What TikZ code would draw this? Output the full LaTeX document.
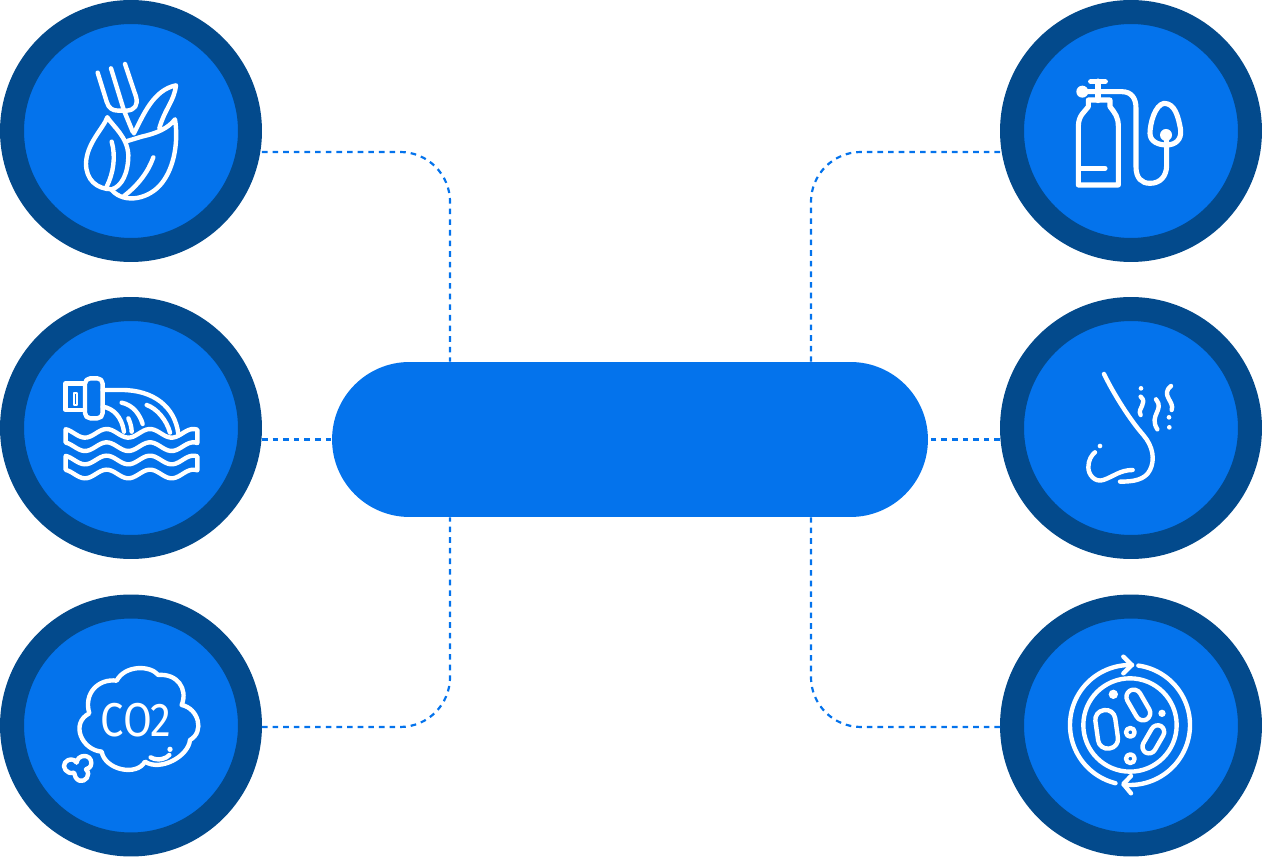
\documentclass[tikz,border=0pt]{standalone}
\usepackage{fontspec}
\newfontfamily\iconfont{Fira Sans}
\definecolor{brandblue}{HTML}{0473EC}
\definecolor{branddark}{HTML}{034A8C}
\tikzset{
  badge/.style={circle,draw=branddark,fill=brandblue,line width=.48cm,minimum size=4.76cm,inner sep=0pt},
  link/.style={draw=brandblue,line width=1.25pt,dash pattern=on 3.2pt off 2.85pt,rounded corners=1cm},
  icon/.style={draw=white,line width=2.5pt,line cap=round,line join=round},
  crop/.style={shift={(#1)},scale=1/3},
}
\begin{document}
\begin{tikzpicture}[x=.02cm,y=-.02cm]
\useasboundingbox (0,0) rectangle (1262,857);

\node[badge] (leaf) at (131,131) {};
\node[badge] (pipe) at (131,428) {};
\node[badge] (cloud) at (131,725.5) {};
\node[badge] (tank) at (1131,131) {};
\node[badge] (nose) at (1131,428) {};
\node[badge] (petri) at (1131,725.5) {};
\node[fill=brandblue,minimum width=11.92cm,minimum height=3.1cm,rounded corners=1.55cm,inner sep=0pt] (pill) at (630,439.5) {};

\draw[link] ([yshift=-.42cm]leaf.east) -| ([xshift=-3.6cm]pill.north);
\draw[link] ([yshift=-.42cm]tank.west) -| ([xshift=3.62cm]pill.north);
\draw[link] ([yshift=-.03cm]cloud.east) -| ([xshift=-3.6cm]pill.south);
\draw[link] ([yshift=-.03cm]petri.west) -| ([xshift=3.62cm]pill.south);
\draw[link] (pill.west -| pipe.east) -- (pill.west);
\draw[link] (pill.east -| nose.west) -- (pill.east);

\begin{scope}[crop={50,40}]
\draw[icon] (143,98) -- (170,185) .. controls (176,205) and (187,212) .. (205,212) -- (230,212) .. controls (255,210) and (265,195) .. (258,170) -- (225,72);
\draw[icon] (183,85) -- (222,212) -- (248,275);
\draw[icon] (252,280) .. controls (280,225) and (310,150) .. (378,136) .. controls (372,185) and (345,205) .. (328,265);
\draw[icon] (232,303) -- (275,290) .. controls (320,280) and (355,265) .. (375,238) .. controls (385,300) and (375,380) .. (335,430) .. controls (300,475) and (225,495) .. (185,450);
\draw[icon] (310,352) .. controls (295,395) and (265,435) .. (222,468);
\draw[icon] (172,232) .. controls (160,265) and (110,310) .. (108,370) .. controls (108,420) and (140,447) .. (185,448) .. controls (215,440) and (235,400) .. (235,345) .. controls (232,290) and (190,260) .. (172,232);
\draw[icon] (185,305) .. controls (198,350) and (190,400) .. (170,440);
\end{scope}

\begin{scope}[crop={50,360}]
\draw[icon] (105,70) -- (47,70) -- (47,150) -- (105,150);
\draw[icon,rounded corners=3pt] (105,55) rectangle (158,175);
\draw[icon,line width=1.2pt] (71,99) rectangle (82,136);
\draw[icon] (158,90) -- (215,90) .. controls (310,90) and (375,140) .. (385,222);
\draw[icon] (158,140) .. controls (190,145) and (215,170) .. (222,215);
\draw[icon] (215,128) .. controls (250,135) and (270,165) .. (278,192);
\draw[icon] (290,135) .. controls (320,145) and (350,180) .. (360,218);
\draw[icon] (235,175) .. controls (242,190) and (245,205) .. (245,215);
\foreach \wavetop/\wavebot in {220/260,300/342}
  \draw[icon] plot[smooth,samples=50,domain=47:442] (\x,{\wavetop-13*cos((\x-170)*2.769)}) -- plot[smooth,samples=50,domain=442:47] (\x,{\wavebot-13*cos((\x-170)*2.769)}) -- cycle;
\end{scope}

\begin{scope}[crop={50,650}]
\draw[icon] (118,190) .. controls (100,130) and (145,85) .. (200,92) .. controls (225,45) and (300,45) .. (325,75) .. controls (380,70) and (415,115) .. (395,165) .. controls (445,175) and (465,245) .. (420,270) .. controls (415,320) and (330,365) .. (285,335) .. controls (260,380) and (165,360) .. (155,305) .. controls (95,300) and (60,220) .. cycle;
\draw[icon] (302,322) .. controls (325,335) and (350,325) .. (358,315);
\fill[white] (360,298) circle[radius=8];
\draw[icon] (80,338) .. controls (82,312) and (125,310) .. (124,340) .. controls (123,352) and (115,356) .. (108,358) .. controls (125,375) and (105,398) .. (88,392) .. controls (78,388) and (74,378) .. (72,368) .. controls (50,375) and (35,350) .. (45,338) .. controls (55,325) and (72,325) .. cycle;
\end{scope}
\node[text=white,font=\iconfont\fontsize{27}{27}\selectfont,xscale=.88,inner sep=0pt] (co2) at (136,720) {CO2};

\begin{scope}[crop={1060,70}]
\draw[icon,line width=2.9pt] (55,345) -- (55,170) .. controls (55,135) and (75,125) .. (85,110) -- (85,90) -- (150,90) -- (150,110) .. controls (165,130) and (175,140) .. (175,170) -- (175,345) -- cycle;
\draw[icon,line width=3.6pt] (114,90) -- (114,35);
\draw[icon,line width=2.9pt] (92,35) -- (136,35);
\fill[white] (67,65) circle[radius=18];
\draw[icon,line width=2.9pt] (67,65) -- (185,65) .. controls (215,65) and (228,85) .. (228,115) -- (228,290) .. controls (228,325) and (245,340) .. (270,340) .. controls (300,340) and (320,320) .. (320,285) -- (320,210);
\draw[icon,line width=2.9pt] (312,100) .. controls (285,105) and (270,160) .. (270,190) .. controls (270,215) and (295,225) .. (320,225) .. controls (345,225) and (365,210) .. (362,180) .. controls (355,140) and (345,100) .. (312,100);
\fill[white] (318,195) circle[radius=18];
\draw[icon,line width=2.9pt] (65,295) -- (135,295);
\end{scope}

\begin{scope}[crop={1070,360}]
\draw[icon] (102,42) .. controls (130,100) and (180,180) .. (220,225) .. controls (250,260) and (255,300) .. (240,330) .. controls (225,360) and (190,365) .. (150,365);
\draw[icon] (188,330) .. controls (150,330) and (130,350) .. (100,360) .. controls (75,368) and (55,345) .. (55,322) .. controls (55,300) and (65,285) .. (75,277);
\fill[white] (90,258) circle[radius=7];
\draw[icon] (212,110) .. controls (235,130) and (200,145) .. (212,165);
\draw[icon] (258,118) .. controls (285,150) and (235,165) .. (262,208);
\draw[icon] (303,78) .. controls (270,105) and (315,125) .. (305,150);
\fill[white] (213,85) circle[radius=7];
\fill[white] (297,172) circle[radius=7];
\fill[white] (298,202) circle[radius=7];
\end{scope}

\begin{scope}[crop={1060,650}]
\draw[icon] (210,225) circle[radius=140];
\draw[icon] plot[smooth,samples=40,domain=104:272] ({210+180*cos(\x)},{225+180*sin(\x)});
\draw[icon] plot[smooth,samples=40,domain=-82:96] ({210+180*cos(\x)},{225+180*sin(\x)});
\draw[icon] (190,20) -- (215,45) -- (190,70);
\draw[icon] (213,378) -- (190,402) -- (213,430);
\draw[icon,rotate around={8:(140,238)},rounded corners=.19cm] (110,180) rectangle (170,296);
\draw[icon,rotate around={30:(235,165)},rounded corners=.15cm] (213,115) rectangle (257,215);
\draw[icon,rotate around={-30:(280,268)},rounded corners=.14cm] (260,222) rectangle (300,314);
\fill[white] (160,133) circle[radius=14];
\fill[white] (306,190) circle[radius=11];
\draw[icon] (211,247) circle[radius=13];
\draw[icon] (211,326) circle[radius=13];
\end{scope}

\end{tikzpicture}
\end{document}
